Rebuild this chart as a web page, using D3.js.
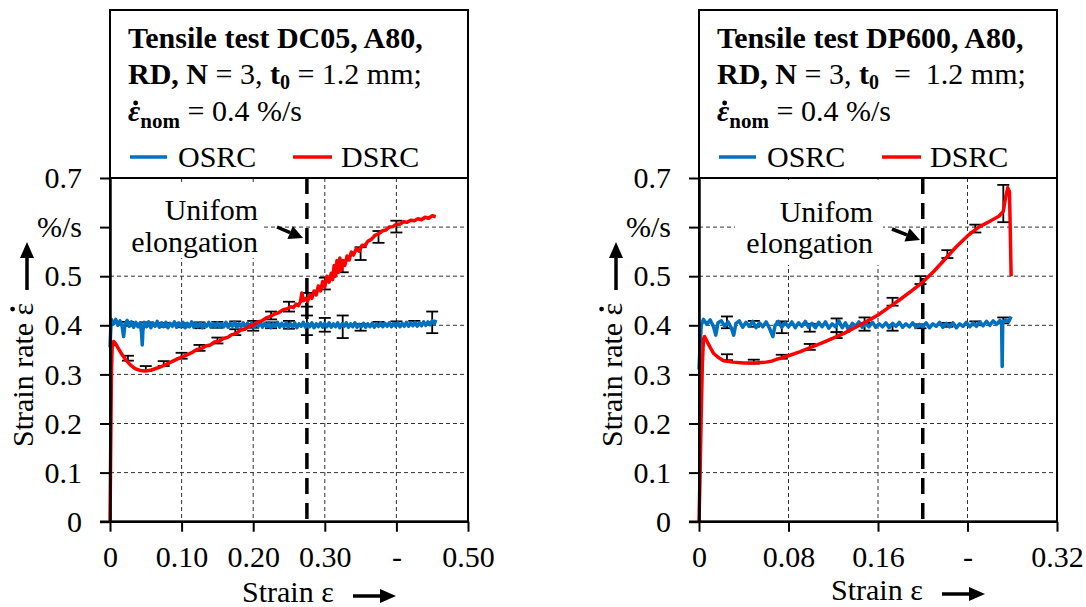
<!DOCTYPE html>
<html><head><meta charset="utf-8">
<script src="https://cdn.jsdelivr.net/npm/d3@7"></script>
<style>
body{margin:0;background:#fff}
svg, svg text, svg tspan{font-family:"Liberation Serif","Times New Roman","DejaVu Serif",serif !important}
text{white-space:pre}
</style>
</head><body><svg id="c" width="1086" height="607"></svg>
<script>
// ---------- shared axis data ----------
const yTicks = [0, 0.1, 0.2, 0.3, 0.4, 0.5, 0.6, 0.7];
const yTickLabels = ["0", "0.1", "0.2", "0.3", "0.4", "0.5", "%/s", "0.7"];

// ---------- DC05 chart ----------
const dc05XTicks = [0, 0.1, 0.2, 0.3, 0.4, 0.5];
const dc05XLabels = ["0", "0.10", "0.20", "0.30", "-", "0.50"];
const dc05Uniform = 0.275;
const dc05Title = ["Tensile test DC05, A80,", "RD, N", " = 3, ", "t", "0", " = 1.2 mm;"];
const dc05Osrc = [
[0,0.355],[0.001,0.39],[0.002,0.412],[0.005,0.403],[0.008,0.412],[0.011,0.4],[0.014,0.409],[0.017,0.397],[0.019,0.377],[0.021,0.403],[0.024,0.41],[0.027,0.398],[0.03,0.407],[0.033,0.396],[0.036,0.406],[0.039,0.397],[0.042,0.405],[0.044,0.386],[0.045,0.36],[0.046,0.39],[0.048,0.406],[0.051,0.397],[0.054,0.407],[0.057,0.395],[0.06,0.405],[0.063,0.398],[0.066,0.408],[0.069,0.396],[0.072,0.405],[0.075,0.397],[0.078,0.406],[0.081,0.395],[0.084,0.404],[0.087,0.398],[0.09,0.407],[0.093,0.396],[0.096,0.405],[0.099,0.397],[0.102,0.406],[0.105,0.395],[0.108,0.404],[0.111,0.397],[0.114,0.407],[0.117,0.396],[0.12,0.404],[0.123,0.397],[0.126,0.405],[0.129,0.395],[0.132,0.403],[0.135,0.398],[0.138,0.406],[0.141,0.396],[0.144,0.404],[0.147,0.397],[0.15,0.405],[0.153,0.396],[0.156,0.403],[0.159,0.397],[0.162,0.406],[0.165,0.396],[0.168,0.404],[0.171,0.398],[0.174,0.406],[0.177,0.395],[0.18,0.403],[0.183,0.397],[0.186,0.405],[0.189,0.396],[0.192,0.404],[0.195,0.397],[0.198,0.405],[0.201,0.395],[0.204,0.403],[0.207,0.398],[0.21,0.406],[0.213,0.396],[0.216,0.404],[0.219,0.397],[0.222,0.405],[0.225,0.395],[0.228,0.403],[0.231,0.398],[0.234,0.406],[0.237,0.396],[0.24,0.404],[0.243,0.397],[0.246,0.405],[0.249,0.396],[0.252,0.403],[0.255,0.397],[0.258,0.405],[0.261,0.395],[0.264,0.403],[0.267,0.398],[0.27,0.406],[0.273,0.396],[0.276,0.404],[0.279,0.397],[0.282,0.405],[0.285,0.395],[0.288,0.403],[0.291,0.397],[0.294,0.405],[0.297,0.396],[0.3,0.404],[0.303,0.397],[0.306,0.405],[0.309,0.396],[0.312,0.403],[0.315,0.397],[0.318,0.405],[0.321,0.395],[0.324,0.403],[0.327,0.398],[0.33,0.405],[0.333,0.396],[0.336,0.403],[0.339,0.397],[0.342,0.405],[0.345,0.396],[0.348,0.402],[0.351,0.397],[0.354,0.404],[0.357,0.396],[0.36,0.403],[0.363,0.397],[0.366,0.404],[0.369,0.396],[0.372,0.403],[0.375,0.398],[0.378,0.405],[0.381,0.397],[0.384,0.404],[0.387,0.398],[0.39,0.405],[0.393,0.397],[0.396,0.404],[0.399,0.398],[0.402,0.405],[0.405,0.397],[0.408,0.404],[0.411,0.398],[0.414,0.406],[0.417,0.398],[0.42,0.405],[0.423,0.399],[0.426,0.406],[0.429,0.398],[0.432,0.405],[0.435,0.399],[0.438,0.407],[0.441,0.4],[0.444,0.407],[0.447,0.401],[0.45,0.409],[0.453,0.403],[0.455,0.411]
];
const dc05Dsrc = [
[0,0],[0.001,0.15],[0.002,0.3],[0.003,0.355],[0.005,0.367],[0.008,0.362],[0.012,0.352],[0.017,0.34],[0.022,0.33],[0.028,0.32],[0.035,0.312],[0.042,0.308],[0.05,0.307],[0.058,0.309],[0.066,0.313],[0.075,0.318],[0.085,0.325],[0.095,0.332],[0.105,0.338],[0.115,0.345],[0.122,0.351],[0.128,0.353],[0.134,0.358],[0.14,0.36],[0.146,0.366],[0.152,0.367],[0.158,0.373],[0.164,0.375],[0.17,0.381],[0.176,0.383],[0.182,0.39],[0.188,0.392],[0.194,0.398],[0.2,0.4],[0.206,0.407],[0.212,0.409],[0.218,0.415],[0.224,0.418],[0.23,0.423],[0.236,0.426],[0.242,0.432],[0.248,0.434],
[0.252,0.438],[0.256,0.436],[0.26,0.443],[0.263,0.44],[0.266,0.448],[0.268,0.466],[0.27,0.45],[0.273,0.455],[0.276,0.449],[0.279,0.462],[0.282,0.455],[0.285,0.47],[0.288,0.462],[0.291,0.48],[0.294,0.47],[0.297,0.489],[0.3,0.478],[0.303,0.5],[0.306,0.488],[0.309,0.506],[0.311,0.493],[0.313,0.522],[0.315,0.5],[0.317,0.532],[0.319,0.508],[0.321,0.537],[0.323,0.512],[0.325,0.532],[0.328,0.522],[0.331,0.541],[0.334,0.533],[0.337,0.549],[0.34,0.543],[0.344,0.556],[0.348,0.551],[0.352,0.563],[0.356,0.562],[0.36,0.571],[0.365,0.575],[0.37,0.583],[0.375,0.586],[0.38,0.592],[0.385,0.594],[0.39,0.6],[0.395,0.601],[0.4,0.606],[0.405,0.606],[0.41,0.611],[0.415,0.61],[0.42,0.614],[0.425,0.613],[0.43,0.617],[0.435,0.615],[0.44,0.62],[0.445,0.618],[0.45,0.623],[0.455,0.621]
];
const dc05OsrcErrX = [0.025,0.05,0.075,0.1,0.125,0.15,0.175,0.2,0.225,0.25,0.275,0.3,0.325,0.35,0.375,0.4,0.425,0.45];
const dc05OsrcErrY = [0.403,0.402,0.401,0.4,0.4,0.401,0.405,0.396,0.4,0.401,0.4,0.401,0.397,0.396,0.403,0.404,0.405,0.406];
const dc05OsrcErrD = [0.004,0.004,0.004,0.004,0.006,0.006,0.003,0.007,0.006,0.008,0.02,0.014,0.023,0.007,0.004,0.004,0.004,0.022];
const dc05DsrcErrX = [0.025,0.05,0.075,0.1,0.125,0.15,0.175,0.2,0.225,0.25,0.275,0.3,0.325,0.35,0.375,0.4];
const dc05DsrcErrY = [0.333,0.312,0.322,0.338,0.354,0.369,0.386,0.402,0.42,0.438,0.452,0.485,0.52,0.546,0.58,0.601];
const dc05DsrcErrD = [0.005,0.005,0.005,0.006,0.006,0.006,0.006,0.007,0.008,0.01,0.014,0.012,0.012,0.013,0.012,0.012];

// ---------- DP600 chart ----------
const dp600XTicks = [0, 0.08, 0.16, 0.24, 0.32];
const dp600XLabels = ["0", "0.08", "0.16", "-", "0.32"];
const dp600Uniform = 0.2;
const dp600Title = ["Tensile test DP600, A80,", "RD, N", " = 3, ", "t", "0", "  =  1.2 mm;"];
const dp600Osrc = [
[0,0.31],[0.001,0.36],[0.002,0.4],[0.004,0.412],[0.007,0.402],[0.01,0.411],[0.013,0.397],[0.015,0.38],[0.017,0.405],[0.02,0.409],[0.023,0.398],[0.026,0.407],[0.029,0.394],[0.031,0.38],[0.033,0.404],[0.036,0.409],[0.039,0.396],[0.042,0.406],[0.045,0.398],[0.048,0.408],[0.051,0.395],[0.054,0.405],[0.057,0.397],[0.06,0.407],[0.063,0.394],[0.066,0.377],[0.068,0.4],[0.071,0.408],[0.074,0.396],[0.077,0.405],[0.08,0.397],[0.083,0.407],[0.086,0.395],[0.089,0.405],[0.092,0.398],[0.095,0.408],[0.098,0.396],[0.101,0.404],[0.104,0.395],[0.107,0.406],[0.11,0.397],[0.113,0.407],[0.116,0.394],[0.119,0.403],[0.122,0.397],[0.125,0.409],[0.128,0.395],[0.131,0.405],[0.134,0.388],[0.137,0.404],[0.14,0.398],[0.143,0.407],[0.146,0.396],[0.149,0.404],[0.152,0.397],[0.155,0.406],[0.158,0.396],[0.161,0.403],[0.164,0.397],[0.167,0.405],[0.17,0.395],[0.173,0.404],[0.176,0.398],[0.179,0.406],[0.182,0.396],[0.185,0.403],[0.188,0.397],[0.191,0.405],[0.194,0.396],[0.197,0.402],[0.2,0.397],[0.203,0.405],[0.206,0.395],[0.209,0.403],[0.212,0.398],[0.215,0.406],[0.218,0.396],[0.221,0.404],[0.224,0.397],[0.227,0.405],[0.23,0.395],[0.233,0.403],[0.236,0.398],[0.239,0.406],[0.242,0.397],[0.245,0.405],[0.248,0.398],[0.251,0.407],[0.254,0.399],[0.257,0.408],[0.26,0.4],[0.263,0.409],[0.266,0.402],[0.269,0.41],[0.2705,0.404],[0.271,0.316],[0.2715,0.405],[0.274,0.411],[0.277,0.408],[0.279,0.418]
];
const dp600Dsrc = [
[0,0],[0.001,0.1],[0.002,0.22],[0.003,0.32],[0.004,0.372],[0.005,0.377],[0.007,0.368],[0.01,0.355],[0.013,0.343],[0.017,0.335],[0.022,0.328],[0.03,0.325],[0.04,0.323],[0.05,0.323],[0.06,0.325],[0.065,0.327],[0.07,0.331],[0.08,0.338],[0.09,0.346],[0.1,0.355],[0.11,0.364],[0.12,0.374],[0.13,0.384],[0.14,0.396],[0.15,0.408],[0.16,0.421],[0.17,0.437],[0.18,0.453],[0.19,0.47],[0.2,0.488],[0.21,0.51],[0.22,0.535],[0.23,0.56],[0.24,0.582],[0.25,0.6],[0.26,0.612],[0.268,0.622],[0.272,0.632],[0.274,0.66],[0.276,0.68],[0.2775,0.672],[0.278,0.62],[0.279,0.5]
];
const dp600ErrX = [0.025,0.049,0.074,0.099,0.123,0.148,0.173,0.198,0.222,0.247,0.272];
const dp600OsrcErrY = [0.406,0.403,0.396,0.395,0.4,0.397,0.395,0.398,0.401,0.404,0.41];
const dp600OsrcErrD = [0.012,0.006,0.012,0.008,0.014,0.008,0.006,0.004,0.004,0.004,0.006];
const dp600DsrcErrY = [0.335,0.326,0.336,0.356,0.38,0.41,0.448,0.492,0.545,0.597,0.648];
const dp600DsrcErrD = [0.006,0.004,0.004,0.006,0.006,0.006,0.008,0.008,0.008,0.008,0.038];

const BLUE = "#0070C0", RED = "#FF0000";
const FS = 30;
const FONT = "'Liberation Serif', 'Times New Roman', 'DejaVu Serif', serif";
const svg = d3.select("#c");

function drawChart(c) {
  const x0 = c.x0, x1 = c.x0 + 358, yTop = 178, yBot = 521.7, boxTop = 10;
  const x = d3.scaleLinear().domain([0, c.xTicks[c.xTicks.length - 1]]).range([x0, x1]);
  const y = d3.scaleLinear().domain([0, 0.7]).range([yBot, yTop]);
  const g = svg.append("g").attr("font-family", FONT);

  // grid
  const grid = g.append("g").attr("stroke", "#333").attr("stroke-width", 1).attr("stroke-dasharray", "4,3");
  grid.selectAll("line.h").data(yTicks.slice(1, -1)).join("line")
    .attr("x1", x0).attr("x2", x1).attr("y1", d => y(d)).attr("y2", d => y(d));
  grid.selectAll("line.v").data(c.xTicks.slice(1, -1)).join("line")
    .attr("x1", d => x(d)).attr("x2", d => x(d)).attr("y1", yTop).attr("y2", yBot);

  // annotation
  g.append("rect").attr("x", c.ann.bx).attr("y", c.ann.by).attr("width", c.ann.bw).attr("height", c.ann.bh).attr("fill", "#fff");
  const at = g.append("text").attr("font-size", FS).attr("text-anchor", "end").attr("fill", "#000");
  at.append("tspan").attr("x", c.ann.tx).attr("y", c.ann.ty1).text("Unifom");
  at.append("tspan").attr("x", c.ann.tx).attr("y", c.ann.ty2).text("elongation");
  {
    const [ax, ay, bx, by] = c.ann.arrow;
    const ang = Math.atan2(by - ay, bx - ax), L = 14, W = 7;
    const hx = bx - L * Math.cos(ang), hy = by - L * Math.sin(ang);
    g.append("line").attr("x1", ax).attr("y1", ay).attr("x2", hx).attr("y2", hy).attr("stroke", "#000").attr("stroke-width", 3.5);
    g.append("path").attr("fill", "#000").attr("d",
      `M${bx},${by}L${hx - W * Math.sin(ang)},${hy + W * Math.cos(ang)}L${hx + W * Math.sin(ang)},${hy - W * Math.cos(ang)}Z`);
  }

  // uniform elongation line
  g.append("line").attr("x1", x(c.uniform)).attr("x2", x(c.uniform)).attr("y1", yTop).attr("y2", yBot)
    .attr("stroke", "#000").attr("stroke-width", 3.5).attr("stroke-dasharray", "16,9");

  // error bars
  function errBars(xs, ys, ds) {
    const eg = g.append("g").attr("stroke", "#000").attr("stroke-width", 1.8);
    xs.forEach((xv, i) => {
      const px = x(xv), ya = y(ys[i] + ds[i]), yb = y(ys[i] - ds[i]);
      eg.append("line").attr("x1", px).attr("x2", px).attr("y1", ya).attr("y2", yb);
      eg.append("line").attr("x1", px - 6).attr("x2", px + 6).attr("y1", ya).attr("y2", ya);
      eg.append("line").attr("x1", px - 6).attr("x2", px + 6).attr("y1", yb).attr("y2", yb);
    });
  }
  errBars(c.osrcErrX, c.osrcErrY, c.osrcErrD);
  errBars(c.dsrcErrX, c.dsrcErrY, c.dsrcErrD);

  // lines
  const line = d3.line().x(d => x(d[0])).y(d => y(d[1]));
  g.append("path").datum(c.osrc).attr("d", line).attr("fill", "none").attr("stroke", BLUE).attr("stroke-width", 3.5).attr("stroke-linejoin", "round");
  g.append("path").datum(c.dsrc).attr("d", line).attr("fill", "none").attr("stroke", RED).attr("stroke-width", 3.5).attr("stroke-linejoin", "round");

  // frame / box
  g.append("rect").attr("x", x0).attr("y", boxTop).attr("width", x1 - x0).attr("height", yBot - boxTop)
    .attr("fill", "none").attr("stroke", "#000").attr("stroke-width", 2);
  g.append("line").attr("x1", x0).attr("x2", x1).attr("y1", yTop).attr("y2", yTop).attr("stroke", "#000").attr("stroke-width", 2);

  // axes
  const ya = g.append("g").attr("transform", `translate(${x0},0)`)
    .call(d3.axisLeft(y).tickValues(yTicks).tickFormat((d, i) => yTickLabels[i]).tickSize(10).tickSizeOuter(0).tickPadding(18));
  const xa = g.append("g").attr("transform", `translate(0,${yBot})`)
    .call(d3.axisBottom(x).tickValues(c.xTicks).tickFormat((d, i) => c.xLabels[i]).tickSize(10).tickSizeOuter(0).tickPadding(14));
  [ya, xa].forEach(a => {
    a.attr("font-family", FONT).attr("font-size", FS);
    a.select(".domain").attr("stroke-width", 2.5);
    a.selectAll(".tick line").attr("stroke-width", 2);
    a.selectAll(".tick text").attr("fill", "#000");
  });
  xa.select(".domain").attr("d", `M${x0 - 10},0H${x1}`);

  // title box text
  const tx = x0 + 18;
  g.append("text").attr("x", tx).attr("y", 48).attr("font-size", FS).attr("font-weight", "bold").text(c.title[0]);
  const t2 = g.append("text").attr("x", tx).attr("y", 84).attr("font-size", FS);
  t2.append("tspan").attr("font-weight", "bold").text(c.title[1]);
  t2.append("tspan").text(c.title[2]);
  t2.append("tspan").attr("font-weight", "bold").text(c.title[3]);
  t2.append("tspan").attr("font-weight", "bold").attr("font-size", 20).attr("dy", 5).text(c.title[4]);
  t2.append("tspan").attr("dy", -5).text(c.title[5]);
  const t3 = g.append("text").attr("x", tx).attr("y", 121).attr("font-size", FS);
  t3.append("tspan").attr("font-weight", "bold").attr("font-style", "italic").text("ε");
  t3.append("tspan").attr("font-weight", "bold").attr("font-size", 21).attr("dy", 7).text("nom");
  t3.append("tspan").attr("dy", -7).text(" = 0.4 %/s");
  const e0 = t3.node().getExtentOfChar(0);
  g.append("circle").attr("cx", e0.x + e0.width * 0.62).attr("cy", 121 - FS * 0.6).attr("r", 2.4).attr("fill", "#000");

  // legend
  g.append("line").attr("x1", x0 + 20).attr("x2", x0 + 57).attr("y1", 157).attr("y2", 157).attr("stroke", BLUE).attr("stroke-width", 3.5);
  g.append("text").attr("x", x0 + 68).attr("y", 167).attr("font-size", FS).text("OSRC");
  g.append("line").attr("x1", x0 + 183).attr("x2", x0 + 222).attr("y1", 157).attr("y2", 157).attr("stroke", RED).attr("stroke-width", 3.5);
  g.append("text").attr("x", x0 + 231).attr("y", 167).attr("font-size", FS).text("DSRC");

  // y label
  const yl = g.append("g").attr("transform", `translate(${x0 - 77},${c.ylabStart}) rotate(-90)`);
  const ylt = yl.append("text").attr("x", 0).attr("y", 0).attr("font-size", FS).text("Strain rate ε");
  const n = ylt.text().length;
  const ee = ylt.node().getExtentOfChar(n - 1);
  yl.append("circle").attr("cx", ee.x + ee.width * 0.5).attr("cy", -FS * 0.68).attr("r", 2.4).attr("fill", "#000");
  // y arrow
  const ax = x0 - 83;
  g.append("line").attr("x1", ax).attr("x2", ax).attr("y1", 290).attr("y2", 256).attr("stroke", "#000").attr("stroke-width", 3.5);
  g.append("path").attr("fill", "#000").attr("d", `M${ax},242L${ax - 7},258L${ax + 7},258Z`);

  // x label
  g.append("text").attr("x", x0 + 132).attr("y", c.xlabY).attr("font-size", FS).text("Strain ε");
  g.append("line").attr("x1", x0 + 243).attr("x2", x0 + 272).attr("y1", c.xlabY - 6).attr("y2", c.xlabY - 6).attr("stroke", "#000").attr("stroke-width", 3.5);
  g.append("path").attr("fill", "#000").attr("d", `M${x0 + 286},${c.xlabY - 6}L${x0 + 270},${c.xlabY - 13}L${x0 + 270},${c.xlabY + 1}Z`);
}

drawChart({
  x0: 110, xTicks: dc05XTicks, xLabels: dc05XLabels, uniform: dc05Uniform, title: dc05Title,
  osrc: dc05Osrc, dsrc: dc05Dsrc,
  osrcErrX: dc05OsrcErrX, osrcErrY: dc05OsrcErrY, osrcErrD: dc05OsrcErrD,
  dsrcErrX: dc05DsrcErrX, dsrcErrY: dc05DsrcErrY, dsrcErrD: dc05DsrcErrD,
  ann: {bx: 111, by: 183, bw: 151, bh: 75, tx: 258, ty1: 220, ty2: 252, arrow: [277, 227, 303, 238]},
  ylabStart: 447, xlabY: 602
});
drawChart({
  x0: 699, xTicks: dp600XTicks, xLabels: dp600XLabels, uniform: dp600Uniform, title: dp600Title,
  osrc: dp600Osrc, dsrc: dp600Dsrc,
  osrcErrX: dp600ErrX, osrcErrY: dp600OsrcErrY, osrcErrD: dp600OsrcErrD,
  dsrcErrX: dp600ErrX, dsrcErrY: dp600DsrcErrY, dsrcErrD: dp600DsrcErrD,
  ann: {bx: 735, by: 180, bw: 148, bh: 85, tx: 873, ty1: 222, ty2: 253, arrow: [892, 229, 920, 240]},
  ylabStart: 447, xlabY: 600
});
</script>
</body></html>
